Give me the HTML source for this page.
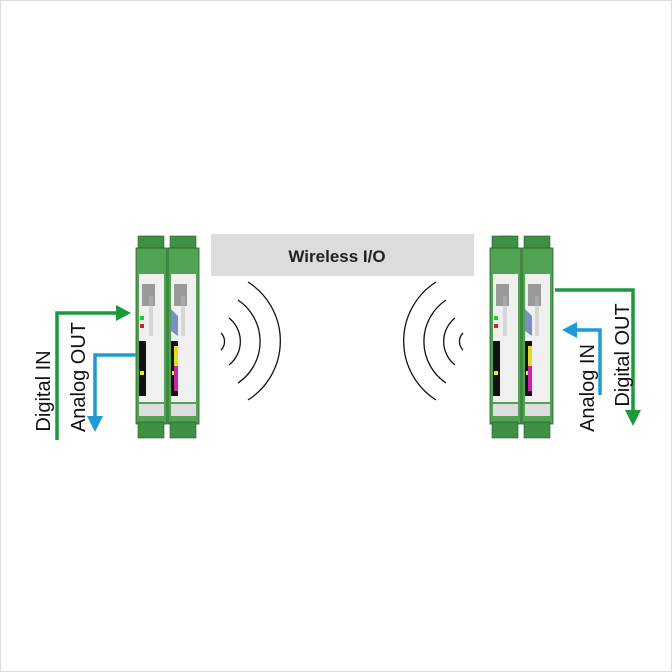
<!DOCTYPE html><html><head><style>body{margin:0;background:#fff}svg{display:block}</style></head><body>
<svg width="672" height="672" viewBox="0 0 672 672" xmlns="http://www.w3.org/2000/svg" font-family="Liberation Sans, sans-serif">
<rect x="0.5" y="0.5" width="671" height="671" fill="#fff" stroke="#ddd"/>
<rect x="211" y="234" width="263" height="42" fill="#dcdcdc"/>
<text x="337" y="262" font-size="17" font-weight="bold" text-anchor="middle" fill="#222">Wireless I/O</text>
<defs>
<g id="mod">
<rect x="2" y="0" width="26" height="14" fill="#3f8f45" stroke="#2a5a2a" stroke-width="0.6"/>
<rect x="0" y="12" width="31" height="176" fill="#4fa352" stroke="#2a5a2a" stroke-width="0.8"/>
<rect x="2" y="186" width="26" height="16" fill="#3f8f45" stroke="#2a5a2a" stroke-width="0.6"/>
<rect x="3" y="38" width="25" height="128" fill="#f0f0f0"/>
<rect x="6" y="48" width="13" height="22" fill="#999"/>
<rect x="3" y="105" width="7" height="55" fill="#111"/>
<rect x="4" y="80" width="4" height="4" fill="#2c2"/><rect x="4" y="88" width="4" height="4" fill="#c22"/>
<rect x="4" y="135" width="4" height="4" fill="#ee2"/>
<rect x="13" y="60" width="4" height="40" fill="#bbb" opacity=".5"/>
<rect x="3" y="168" width="25" height="12" fill="#ddd"/>
</g>
<g id="mod2">
<use href="#mod"/>
<polygon points="3,73 10,80 10,100 3,95" fill="#7c8fc4"/>
<rect x="6" y="110" width="4" height="20" fill="#dd2"/><rect x="6" y="130" width="4" height="25" fill="#c2a"/>
</g>
</defs>
<rect x="145" y="236" width="14" height="12" fill="#f1d83a" stroke="#a90" stroke-width=".6"/>
<use href="#mod" x="136" y="236"/>
<use href="#mod2" x="168" y="236"/>
<rect x="499" y="236" width="14" height="12" fill="#f1d83a" stroke="#a90" stroke-width=".6"/>
<use href="#mod" x="490" y="236"/>
<use href="#mod2" x="522" y="236"/>
<g fill="none" stroke="#111" stroke-width="1.3">
<path d="M221 333 A12 12 0 0 1 221 350"/>
<path d="M229 318 A30 30 0 0 1 229 365"/>
<path d="M238 300 A50 50 0 0 1 238 383"/>
<path d="M248 282 A70 70 0 0 1 248 400"/>
<path d="M463 333 A12 12 0 0 0 463 350"/>
<path d="M455 318 A30 30 0 0 0 455 365"/>
<path d="M446 300 A50 50 0 0 0 446 383"/>
<path d="M436 282 A70 70 0 0 0 436 400"/>
</g>
<g fill="none" stroke-width="3.5">
<path d="M57 440 V313 H118" stroke="#1a9a3a"/>
<path d="M136 355 H95 V418" stroke="#1e9bd7"/>
<path d="M555 290 H633 V412" stroke="#1a9a3a"/>
<path d="M600 395 V330 H575" stroke="#1e9bd7"/>
</g>
<polygon points="116,305 131,313 116,321" fill="#1a9a3a"/>
<polygon points="87,416 95,432 103,416" fill="#1e9bd7"/>
<polygon points="625,410 633,426 641,410" fill="#1a9a3a"/>
<polygon points="577,322 562,330 577,338" fill="#1e9bd7"/>
<g font-size="20" fill="#111" text-anchor="middle">
<text transform="translate(50,391) rotate(-90)">Digital IN</text>
<text transform="translate(85,377) rotate(-90)">Analog OUT</text>
<text transform="translate(594,388) rotate(-90)">Analog IN</text>
<text transform="translate(629,355) rotate(-90)">Digital OUT</text>
</g>
</svg>
</body></html>
